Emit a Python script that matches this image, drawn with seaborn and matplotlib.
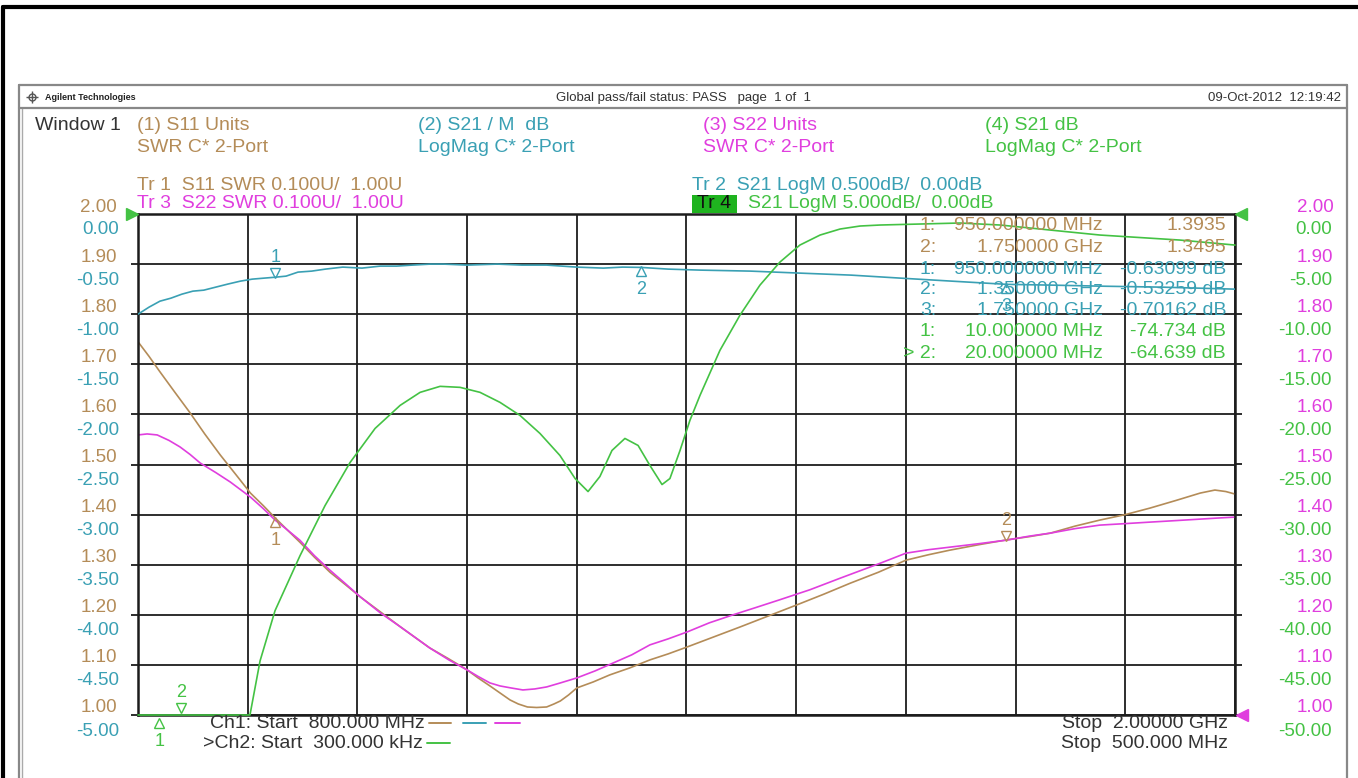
import matplotlib
matplotlib.use("Agg")
import numpy as np
import pandas as pd
import matplotlib.pyplot as plt
import seaborn as sns
from matplotlib.transforms import ScaledTranslation
from matplotlib.lines import Line2D
from matplotlib.patches import Rectangle

# ---------------- data ----------------
ch1_start, ch1_stop = 800.0, 2000.0      # MHz
ch2_start, ch2_stop = 0.3, 500.0         # MHz

s11_freq = [800, 812, 824, 840, 857, 873, 890, 907, 923, 937, 950, 963, 977, 993, 1010, 1027,
            1043, 1065, 1087, 1103, 1119, 1140, 1160, 1172, 1185, 1196, 1207, 1216, 1226, 1236,
            1247, 1255, 1262, 1271, 1280, 1298, 1316, 1338, 1360, 1380, 1401, 1430, 1459, 1490,
            1521, 1550, 1579, 1610, 1640, 1665, 1688, 1720, 1750, 1775, 1798, 1825, 1852, 1880,
            1907, 1935, 1962, 1978, 1990, 2000]
s11_swr = [1.745, 1.716, 1.685, 1.645, 1.603, 1.561, 1.519, 1.480, 1.443, 1.418, 1.3935, 1.370,
           1.345, 1.315, 1.285, 1.260, 1.236, 1.206, 1.176, 1.155, 1.134, 1.112, 1.090, 1.074,
           1.058, 1.044, 1.030, 1.022, 1.016, 1.015, 1.016, 1.022, 1.028, 1.040, 1.054, 1.066,
           1.080, 1.094, 1.110, 1.122, 1.136, 1.156, 1.176, 1.198, 1.220, 1.241, 1.263, 1.285,
           1.309, 1.320, 1.329, 1.340, 1.3495, 1.356, 1.363, 1.377, 1.389, 1.400, 1.413, 1.428,
           1.443, 1.449, 1.446, 1.441]

s22_freq = [800, 810, 821, 834, 846, 857, 868, 885, 901, 912, 923, 937, 950, 963, 977, 993, 1010,
            1027, 1043, 1065, 1087, 1103, 1119, 1140, 1160, 1172, 1185, 1196, 1208, 1221, 1234,
            1247, 1262, 1280, 1300, 1320, 1340, 1360, 1380, 1401, 1425, 1451, 1475, 1502, 1535,
            1568, 1590, 1612, 1640, 1665, 1688, 1720, 1750, 1775, 1798, 1825, 1852, 1880, 1907,
            1935, 1962, 1980, 2000]
s22_swr = [1.559, 1.561, 1.559, 1.548, 1.535, 1.520, 1.503, 1.484, 1.465, 1.450, 1.435, 1.412,
           1.389, 1.370, 1.349, 1.318, 1.289, 1.262, 1.236, 1.204, 1.176, 1.155, 1.134, 1.110,
           1.090, 1.077, 1.064, 1.058, 1.054, 1.050, 1.052, 1.056, 1.064, 1.074, 1.088, 1.104,
           1.120, 1.140, 1.152, 1.166, 1.184, 1.200, 1.214, 1.230, 1.250, 1.273, 1.288, 1.303,
           1.323, 1.330, 1.335, 1.342, 1.349, 1.357, 1.363, 1.372, 1.379, 1.382, 1.385, 1.388,
           1.391, 1.393, 1.395]

s21m_freq = [800, 812, 824, 836, 848, 860, 872, 885, 898, 912, 925, 938, 950, 962, 975, 990,
             1005, 1024, 1045, 1065, 1083, 1100, 1120, 1134, 1160, 1193, 1220, 1247, 1280, 1309,
             1330, 1350, 1380, 1415, 1470, 1524, 1580, 1634, 1690, 1750, 1800, 1852, 1920, 2000]
s21m_db = [-1.00, -0.93, -0.87, -0.84, -0.80, -0.77, -0.76, -0.73, -0.70, -0.67, -0.65, -0.64,
           -0.631, -0.62, -0.58, -0.57, -0.55, -0.53, -0.54, -0.52, -0.52, -0.51, -0.50, -0.50,
           -0.51, -0.50, -0.51, -0.51, -0.53, -0.54, -0.53, -0.533, -0.55, -0.56, -0.57, -0.59,
           -0.61, -0.64, -0.67, -0.702, -0.71, -0.72, -0.73, -0.75]

s21_freq = [0.3, 10, 20, 35, 51.3, 55.9, 62.7, 74.1, 85.5, 96.9, 108.3, 119.7, 128.8, 137.9,
            147.0, 156.1, 165.2, 174.3, 183.4, 192.5, 199.4, 205.3, 210.7, 216.2, 222.1, 228.1,
            233.5, 239.0, 242.6, 247.2, 251.7, 256.3, 265.4, 274.5, 283.6, 292.7, 301.8, 311.0,
            320.1, 329.2, 338.3, 356.5, 374.7, 393.0, 438.5, 474.9, 500]
s21_db = [-85, -74.734, -64.639, -56, -50.1, -44.6, -39.6, -34.1, -29.1, -24.8, -21.4, -19.1,
          -17.8, -17.2, -17.3, -17.8, -18.8, -20.1, -21.9, -24.1, -26.4, -27.7, -26.2, -23.6,
          -22.4, -23.1, -25.1, -27.0, -26.4, -23.6, -20.6, -18.1, -13.6, -10.1, -7.1, -4.8,
          -3.1, -2.1, -1.5, -1.2, -1.1, -1.0, -0.9, -1.1, -2.1, -2.6, -3.1]

swr_ticks = [1.00, 1.10, 1.20, 1.30, 1.40, 1.50, 1.60, 1.70, 1.80, 1.90, 2.00]
db1_ticks = [-5.00, -4.50, -4.00, -3.50, -3.00, -2.50, -2.00, -1.50, -1.00, -0.50, 0.00]
db2_ticks = [-50.00, -45.00, -40.00, -35.00, -30.00, -25.00, -20.00, -15.00, -10.00, -5.00, 0.00]

table_idx = ["1:", "2:", "1:", "2:", "3:", "1:", "> 2:"]
table_stim = ["950.000000 MHz", "1.750000 GHz", "950.000000 MHz", "1.350000 GHz",
              "1.750000 GHz", "10.000000 MHz", "20.000000 MHz"]
table_resp = ["1.3935", "1.3495", "-0.63099 dB", "-0.53259 dB", "-0.70162 dB",
              "-74.734 dB", "-64.639 dB"]

# ---------------- style ----------------
sns.set_theme(style="white")
plt.rcParams["font.family"] = ["Liberation Sans", "DejaVu Sans"]

TAN = "#b48c58"
TEAL = "#3aa0b4"
MAG = "#e03ede"
GRN = "#44c244"
GRID = "#1c1c1c"
TXT = "#333333"

W, H = 1358, 778
fig = plt.figure(figsize=(W / 100, H / 100), dpi=100)
fig.patch.set_facecolor("white")


def P(x, y):
    return (x / W, 1 - y / H)


L, R, T, B = 138, 1235, 214, 715
rect = [L / W, 1 - B / H, (R - L) / W, (B - T) / H]

ax = fig.add_axes(rect)
ax_db = ax.twinx()
ax_r = ax.twinx()
ax2 = fig.add_axes(rect)
ax2.set_facecolor("none")

# ---------------- traces ----------------
sns.lineplot(x=s11_freq, y=s11_swr, ax=ax, color=TAN, linewidth=1.2)
sns.lineplot(x=s22_freq, y=s22_swr, ax=ax, color=MAG, linewidth=1.2)
sns.lineplot(x=s21m_freq, y=s21m_db, ax=ax_db, color=TEAL, linewidth=1.2)
s21_disp = np.clip(np.array(s21_db), db2_ticks[0], None)
sns.lineplot(x=s21_freq, y=s21_disp, ax=ax2, color=GRN, linewidth=1.2)
ax2.lines[-1].set_clip_on(False)

up = ScaledTranslation(0, 9 / 100, fig.dpi_scale_trans)
down = ScaledTranslation(0, -14 / 100, fig.dpi_scale_trans)

# main SWR axis (left labels)
ax.set_xlim(ch1_start, ch1_stop)
ax.set_ylim(swr_ticks[0], swr_ticks[-1])
ax.set_xticks(np.linspace(ch1_start, ch1_stop, 11))
ax.set_yticks(swr_ticks)
ax.set_yticklabels([f"{v:.2f}" for v in swr_ticks])
ax.grid(True, color=GRID, linewidth=1.3)
ax.tick_params(axis="x", bottom=False, labelbottom=False)
ax.tick_params(axis="y", left=True, right=False, length=5, width=1.3, color=GRID,
               labelcolor=TAN, labelsize=13.5, pad=10)
for s in ax.spines.values():
    s.set_color(GRID)
    s.set_linewidth(1.8)
ax.set_xlabel("")
ax.set_ylabel("")
for lab in ax.get_yticklabels():
    lab.set_transform(lab.get_transform() + up)

# S21 (ch1) dB axis, labels on the left
ax_db.set_ylim(db1_ticks[0], db1_ticks[-1])
ax_db.set_yticks(db1_ticks)
ax_db.set_yticklabels([f"{v:.2f}" for v in db1_ticks])
ax_db.yaxis.set_ticks_position("left")
ax_db.tick_params(axis="y", length=0, labelcolor=TEAL, labelsize=13.5, pad=13.7)
ax_db.set_ylabel("")
for s in ax_db.spines.values():
    s.set_visible(False)
for lab in ax_db.get_yticklabels():
    lab.set_transform(lab.get_transform() + down)

# S22 SWR axis, labels on the right
ax_r.set_ylim(swr_ticks[0], swr_ticks[-1])
ax_r.set_yticks(swr_ticks)
ax_r.set_yticklabels([f"{v:.2f}" for v in swr_ticks])
ax_r.yaxis.set_ticks_position("right")
ax_r.tick_params(axis="y", length=5, width=1.3, color=GRID, labelcolor=MAG,
                 labelsize=13.5, pad=66)
for s in ax_r.spines.values():
    s.set_visible(False)
for lab in ax_r.get_yticklabels():
    lab.set_horizontalalignment("right")
    lab.set_transform(lab.get_transform() + up)

# Ch2 S21 axis, labels on the right
ax2.set_xlim(ch2_start, ch2_stop)
ax2.set_ylim(db2_ticks[0], db2_ticks[-1])
ax2.set_xticks([])
ax2.set_yticks(db2_ticks)
ax2.set_yticklabels([f"{v:.2f}" for v in db2_ticks])
ax2.yaxis.set_ticks_position("right")
ax2.tick_params(axis="y", length=0, labelcolor=GRN, labelsize=13.5, pad=69.8)
ax2.set_xlabel("")
ax2.set_ylabel("")
for s in ax2.spines.values():
    s.set_visible(False)
for lab in ax2.get_yticklabels():
    lab.set_horizontalalignment("right")
    lab.set_transform(lab.get_transform() + down)

# ---------------- markers ----------------
def marker(a, x, y, num, color, above=True, base=0, clip=True):
    sym = "v" if above else "^"
    off = 4 if above else -4
    a.annotate("", xy=(x, y))
    a.plot([x], [y], marker=sym, markersize=7, mfc="none", mec=color, mew=1.0,
           transform=a.transData + ScaledTranslation(0, (off + base) / 100, fig.dpi_scale_trans),
           clip_on=False)
    a.annotate(num, xy=(x, y), xytext=(0, (14 if above else -16) + base * 0.72),
               textcoords="offset points", ha="center", va="center", color=color,
               fontsize=13, annotation_clip=False)


marker(ax, 950, 1.3935, "1", TAN, above=False)
marker(ax, 1750, 1.3495, "2", TAN, above=True)
marker(ax_db, 950, -0.63099, "1", TEAL, above=True)
marker(ax_db, 1350, -0.53259, "2", TEAL, above=False)
marker(ax_db, 1750, -0.70162, "3", TEAL, above=False)
marker(ax2, 20, db2_ticks[0], "2", GRN, above=True, base=3)
marker(ax2, 10, db2_ticks[0], "1", GRN, above=False, base=-4)

# reference arrows at the graticule corners
fig.add_artist(Line2D([P(132, 214)[0]], [P(132, 214)[1]], marker=">", markersize=8,
                      color=GRN, transform=fig.transFigure))
fig.add_artist(Line2D([P(1241, 214)[0]], [P(1241, 214)[1]], marker="<", markersize=8,
                      color=GRN, transform=fig.transFigure))
fig.add_artist(Line2D([P(1242, 715)[0]], [P(1242, 715)[1]], marker="<", markersize=8,
                      color=MAG, transform=fig.transFigure))

# ---------------- frame ----------------
def fline(x0, y0, x1, y1, color, lw):
    a, b = P(x0, y0), P(x1, y1)
    fig.add_artist(Line2D([a[0], b[0]], [a[1], b[1]], color=color, linewidth=lw,
                          transform=fig.transFigure))


fline(3, 7, 1358, 7, "black", 3)
fline(3, 7, 3, 778, "black", 3)
fline(19, 85, 1347, 85, "#888888", 1.6)
fline(19, 85, 19, 778, "#888888", 1.6)
fline(22, 108, 22, 778, "#aaaaaa", 1.0)
fline(1347, 85, 1347, 778, "#888888", 1.6)
fline(19, 108, 1347, 108, "#888888", 1.6)


def ftext(x, y, s, color=TXT, size=14, ha="left", **kw):
    fig.text(*P(x, y), s, color=color, fontsize=size, ha=ha, va="center", **kw)


# header strip
fig.add_artist(Line2D([P(32, 97)[0]], [P(32, 97)[1]], marker="o", markersize=5, mfc="none",
                      mec="#555555", transform=fig.transFigure))
fig.add_artist(Line2D([P(32, 97)[0]], [P(32, 97)[1]], marker="+", markersize=9,
                      color="#555555", transform=fig.transFigure))
ftext(45, 97, "Agilent Technologies", color="#222222", size=6.5, weight="bold")
ftext(683, 98, "Global pass/fail status: PASS   page  1 of  1", size=9.5, ha="center")
ftext(1341, 98, "09-Oct-2012  12:19:42", size=9.5, ha="right")

# window titles
ftext(35, 126, "Window 1", size=14)
ftext(137, 126, "(1) S11 Units", TAN)
ftext(137, 148, "SWR C* 2-Port", TAN)
ftext(418, 126, "(2) S21 / M  dB", TEAL)
ftext(418, 148, "LogMag C* 2-Port", TEAL)
ftext(703, 126, "(3) S22 Units", MAG)
ftext(703, 148, "SWR C* 2-Port", MAG)
ftext(985, 126, "(4) S21 dB", GRN)
ftext(985, 148, "LogMag C* 2-Port", GRN)

# trace status lines
ftext(137, 185, "Tr 1  S11 SWR 0.100U/  1.00U", TAN)
ftext(137, 204, "Tr 3  S22 SWR 0.100U/  1.00U", MAG)
ftext(692, 185, "Tr 2  S21 LogM 0.500dB/  0.00dB", TEAL)
fig.add_artist(Rectangle(P(692, 213), 45 / W, 18 / H, transform=fig.transFigure,
                         facecolor="#1fb31f", edgecolor="none"))
ftext(697, 204, "Tr 4", "#111111")
ftext(748, 204, "S21 LogM 5.000dB/  0.00dB", GRN)

# marker table
row_y = [225, 248, 270, 290, 310, 332, 353]
row_c = [TAN, TAN, TEAL, TEAL, TEAL, GRN, GRN]
for yy, c, i, s, r in zip(row_y, row_c, table_idx, table_stim, table_resp):
    ftext(936, yy, i, c, ha="right")
    ftext(1103, yy, s, c, ha="right")
    ftext(1226, yy, r, c, ha="right")

# start/stop annotations
ftext(210, 723, "Ch1: Start  800.000 MHz")
ftext(203, 743, ">Ch2: Start  300.000 kHz")
ftext(1228, 723, "Stop  2.00000 GHz", ha="right")
ftext(1228, 743, "Stop  500.000 MHz", ha="right")
fline(429, 723, 451, 723, TAN, 1.4)
fline(463, 723, 486, 723, TEAL, 1.4)
fline(495, 723, 520, 723, MAG, 1.4)
fline(427, 743, 450, 743, GRN, 1.4)

fig.savefig("out.png", dpi=100)
